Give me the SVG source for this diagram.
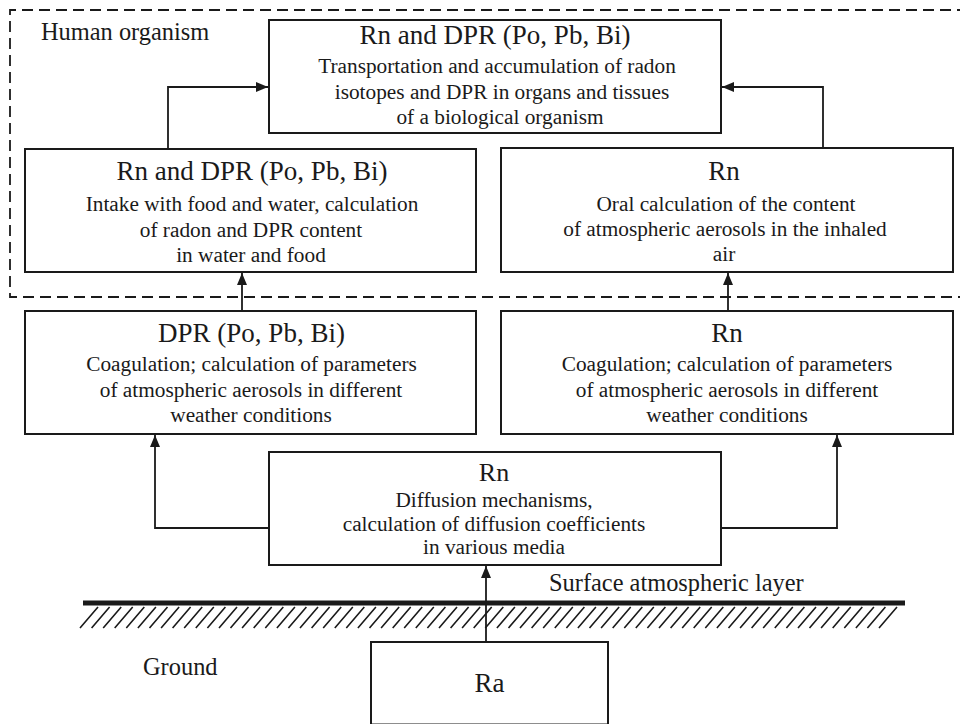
<svg xmlns="http://www.w3.org/2000/svg" width="960" height="724" viewBox="0 0 960 724">
<style>
.box{fill:#fff;stroke:#1a1a1a;stroke-width:2}
.t{font-family:"Liberation Serif","Times New Roman",serif;fill:#1a1a1a;text-anchor:middle}
.title{font-size:27px}
.body{font-size:21.3px}
.lbl{font-family:"Liberation Serif","Times New Roman",serif;fill:#1a1a1a;font-size:24.4px}
.conn{fill:none;stroke:#1a1a1a;stroke-width:1.8}
</style>
<defs>
<marker id="ah" viewBox="0 0 12 10" refX="12" refY="5" markerWidth="12" markerHeight="10" markerUnits="userSpaceOnUse" orient="auto">
<path d="M0,0 L12,5 L0,10 z" fill="#1a1a1a"/>
</marker>
</defs>
<rect width="960" height="724" fill="#fff"/>

<g id="organism-frame">
<path d="M968,10 H10 V297 H968" fill="none" stroke="#1a1a1a" stroke-width="1.8" stroke-dasharray="11 6"/>
<text class="lbl" x="41" y="40">Human organism</text>
</g>

<g id="ground">
<line x1="83" y1="603" x2="905" y2="603" stroke="#1a1a1a" stroke-width="5"/>
<path stroke="#1a1a1a" stroke-width="1.6" fill="none" d="M80,628l18,-21M91.6,628l18,-21M103.2,628l18,-21M114.7,628l18,-21M126.3,628l18,-21M137.9,628l18,-21M149.5,628l18,-21M161.1,628l18,-21M172.6,628l18,-21M184.2,628l18,-21M195.8,628l18,-21M207.4,628l18,-21M219,628l18,-21M230.5,628l18,-21M242.1,628l18,-21M253.7,628l18,-21M265.3,628l18,-21M276.9,628l18,-21M288.4,628l18,-21M300,628l18,-21M311.6,628l18,-21M323.2,628l18,-21M334.8,628l18,-21M346.3,628l18,-21M357.9,628l18,-21M369.5,628l18,-21M381.1,628l18,-21M392.7,628l18,-21M404.2,628l18,-21M415.8,628l18,-21M427.4,628l18,-21M439,628l18,-21M450.6,628l18,-21M462.1,628l18,-21M473.7,628l18,-21M485.3,628l18,-21M496.9,628l18,-21M508.5,628l18,-21M520,628l18,-21M531.6,628l18,-21M543.2,628l18,-21M554.8,628l18,-21M566.4,628l18,-21M577.9,628l18,-21M589.5,628l18,-21M601.1,628l18,-21M612.7,628l18,-21M624.3,628l18,-21M635.8,628l18,-21M647.4,628l18,-21M659,628l18,-21M670.6,628l18,-21M682.2,628l18,-21M693.7,628l18,-21M705.3,628l18,-21M716.9,628l18,-21M728.5,628l18,-21M740.1,628l18,-21M751.6,628l18,-21M763.2,628l18,-21M774.8,628l18,-21M786.4,628l18,-21M798,628l18,-21M809.5,628l18,-21M821.1,628l18,-21M832.7,628l18,-21M844.3,628l18,-21M855.9,628l18,-21M867.4,628l18,-21M879,628l18,-21"/>
<text class="lbl" x="549" y="591">Surface atmospheric layer</text>
<text class="lbl" x="143" y="675">Ground</text>
</g>

<g id="connectors">
<path class="conn" d="M168,149 V87 H268" marker-end="url(#ah)"/>
<path class="conn" d="M823,148 V87 H722" marker-end="url(#ah)"/>
<path class="conn" d="M242,311 V273" marker-end="url(#ah)"/>
<path class="conn" d="M728,311 V273" marker-end="url(#ah)"/>
<path class="conn" d="M269,528 H155 V435" marker-end="url(#ah)"/>
<path class="conn" d="M721,528 H837 V435" marker-end="url(#ah)"/>
<path class="conn" d="M486,642 V566" marker-end="url(#ah)"/>
</g>

<g id="node-top">
<rect class="box" x="269" y="20" width="452" height="113"/>
<text class="t title" x="495" y="44">Rn and DPR (Po, Pb, Bi)</text>
<text class="t body" x="497" y="73">Transportation and accumulation of radon</text>
<text class="t body" x="502" y="99">isotopes and DPR in organs and tissues</text>
<text class="t body" x="500" y="124">of a biological organism</text>
</g>

<g id="node-food">
<rect class="box" x="25" y="149" width="451" height="123"/>
<text class="t title" x="252" y="180">Rn and DPR (Po, Pb, Bi)</text>
<text class="t body" x="252" y="211">Intake with food and water, calculation</text>
<text class="t body" x="251" y="237">of radon and DPR content</text>
<text class="t body" x="251" y="262">in water and food</text>
</g>

<g id="node-inhaled">
<rect class="box" x="501" y="148" width="452" height="124"/>
<text class="t title" x="724" y="180">Rn</text>
<text class="t body" x="726" y="211">Oral calculation of the content</text>
<text class="t body" x="725" y="236">of atmospheric aerosols in the inhaled</text>
<text class="t body" x="724" y="261">air</text>
</g>

<g id="node-dpr-coag">
<rect class="box" x="25" y="311" width="451" height="123"/>
<text class="t title" x="251.5" y="342">DPR (Po, Pb, Bi)</text>
<text class="t body" x="251.5" y="371">Coagulation; calculation of parameters</text>
<text class="t body" x="251" y="397">of atmospheric aerosols in different</text>
<text class="t body" x="251" y="422">weather conditions</text>
</g>

<g id="node-rn-coag">
<rect class="box" x="501" y="311" width="452" height="123"/>
<text class="t title" x="727" y="342">Rn</text>
<text class="t body" x="727" y="371">Coagulation; calculation of parameters</text>
<text class="t body" x="727" y="397">of atmospheric aerosols in different</text>
<text class="t body" x="727" y="422">weather conditions</text>
</g>

<g id="node-diffusion">
<rect class="box" x="269" y="452" width="452" height="113"/>
<text class="t" x="494" y="481" style="font-size:26px">Rn</text>
<text class="t body" x="494" y="507">Diffusion mechanisms,</text>
<text class="t body" x="494" y="531">calculation of diffusion coefficients</text>
<text class="t body" x="494" y="554">in various media</text>
</g>

<g id="node-ra">
<rect class="box" x="371" y="642" width="237" height="82.5"/>
<text class="t title" x="489.5" y="692">Ra</text>
</g>
</svg>
